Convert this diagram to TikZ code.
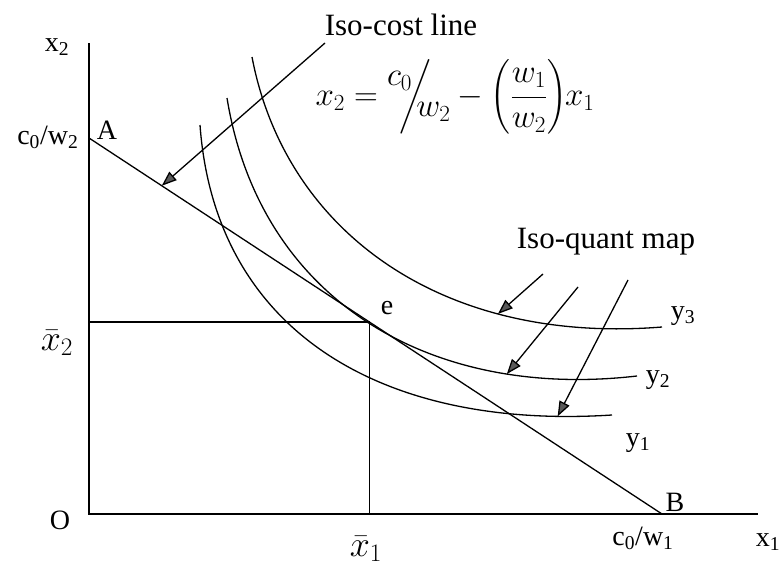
\RequirePackage{fix-cm}
\documentclass[tikz,border=0pt]{standalone}
\usepackage{amsmath}
\usepackage{fontspec}
\setmainfont{Liberation Serif}
\usetikzlibrary{arrows.meta,calc}

\begin{document}
\begin{tikzpicture}[x=1pt,y=-1pt,line width=1.3pt,
  lbl/.style={font=\fontsize{28}{32}\selectfont,inner sep=0pt},
  mlbl/.style={font=\fontsize{36}{40}\selectfont,inner sep=0pt},
  title/.style={font=\fontsize{31}{36}\selectfont,inner sep=0pt},
  pointer/.style={-{Triangle[length=15pt,width=11pt,fill=gray!70!black]}}]
\useasboundingbox (0,0) rectangle (780,570);
% axes and iso-cost line
\coordinate (O) at (89,514);
\coordinate (ytop) at (89,43);
\coordinate (xend) at (758,514);
\coordinate (A) at (89,138);
\coordinate (B) at (662,514);
\coordinate (e) at ($(A)!0.489!(B)$);
\draw (ytop) -- (O) -- (xend);
\draw (A) -- (B);
\draw (e -| O) -- (e) -- (e |- O);
% iso-quants
\draw (200,125) .. controls (215,330) and (380,430) .. (612,415) coordinate[pos=0.92] (q1);
\draw (227,98) .. controls (260,300) and (430,400) .. (637,376) coordinate[pos=0.78] (q2);
\draw (252,57) .. controls (285,230) and (440,345) .. (662,327) coordinate[pos=0.73] (q3);
% labels
\node[lbl] (x2lbl) at (57,47) {x\textsubscript{2}};
\node[lbl,anchor=east] (cw2) at (79,137) {c\textsubscript{0}/w\textsubscript{2}};
\node[lbl] (Albl) at (107,130) {A};
\node[lbl] (Olbl) at (60,520) {O};
\node[mlbl] (x2bar) at (57,343) {$\bar{x}_2$};
\node[mlbl] (x1bar) at (366,549) {$\bar{x}_1$};
\node[lbl] (cw1) at (643,538) {c\textsubscript{0}/w\textsubscript{1}};
\node[lbl] (Blbl) at (675,502) {B};
\node[lbl] (x1lbl) at (768,542) {x\textsubscript{1}};
\node[lbl] (elbl) at (387,308) {e};
\node[lbl] (y1) at (638,443) {y\textsubscript{1}};
\node[lbl] (y2) at (658,380) {y\textsubscript{2}};
\node[lbl] (y3) at (683,316) {y\textsubscript{3}};
\node[title] (costlbl) at (401,25) {Iso-cost line};
\node[title,font=\fontsize{33}{38}\selectfont] (eqn) at (455,97)
  {$x_2 = \raisebox{.6em}{$c_0$}\mkern-7mu\bigg/\mkern-8mu\raisebox{-.35em}{$w_2$}
   - \left(\dfrac{w_1}{w_2}\right)\mkern-4mu x_1$};
\node[title] (quantlbl) at (606,242) {Iso-quant map};
% pointers
\coordinate (cs) at (325,43);
\coordinate (s3) at (543,274);
\coordinate (s2) at (578,287);
\coordinate (s1) at (628,280);
\draw[pointer] (cs) -- ($(A)!0.127!(B)$);
\draw[pointer] (s3) -- (q3);
\draw[pointer] (s2) -- (q2);
\draw[pointer] (s1) -- (q1);
\end{tikzpicture}
\end{document}
